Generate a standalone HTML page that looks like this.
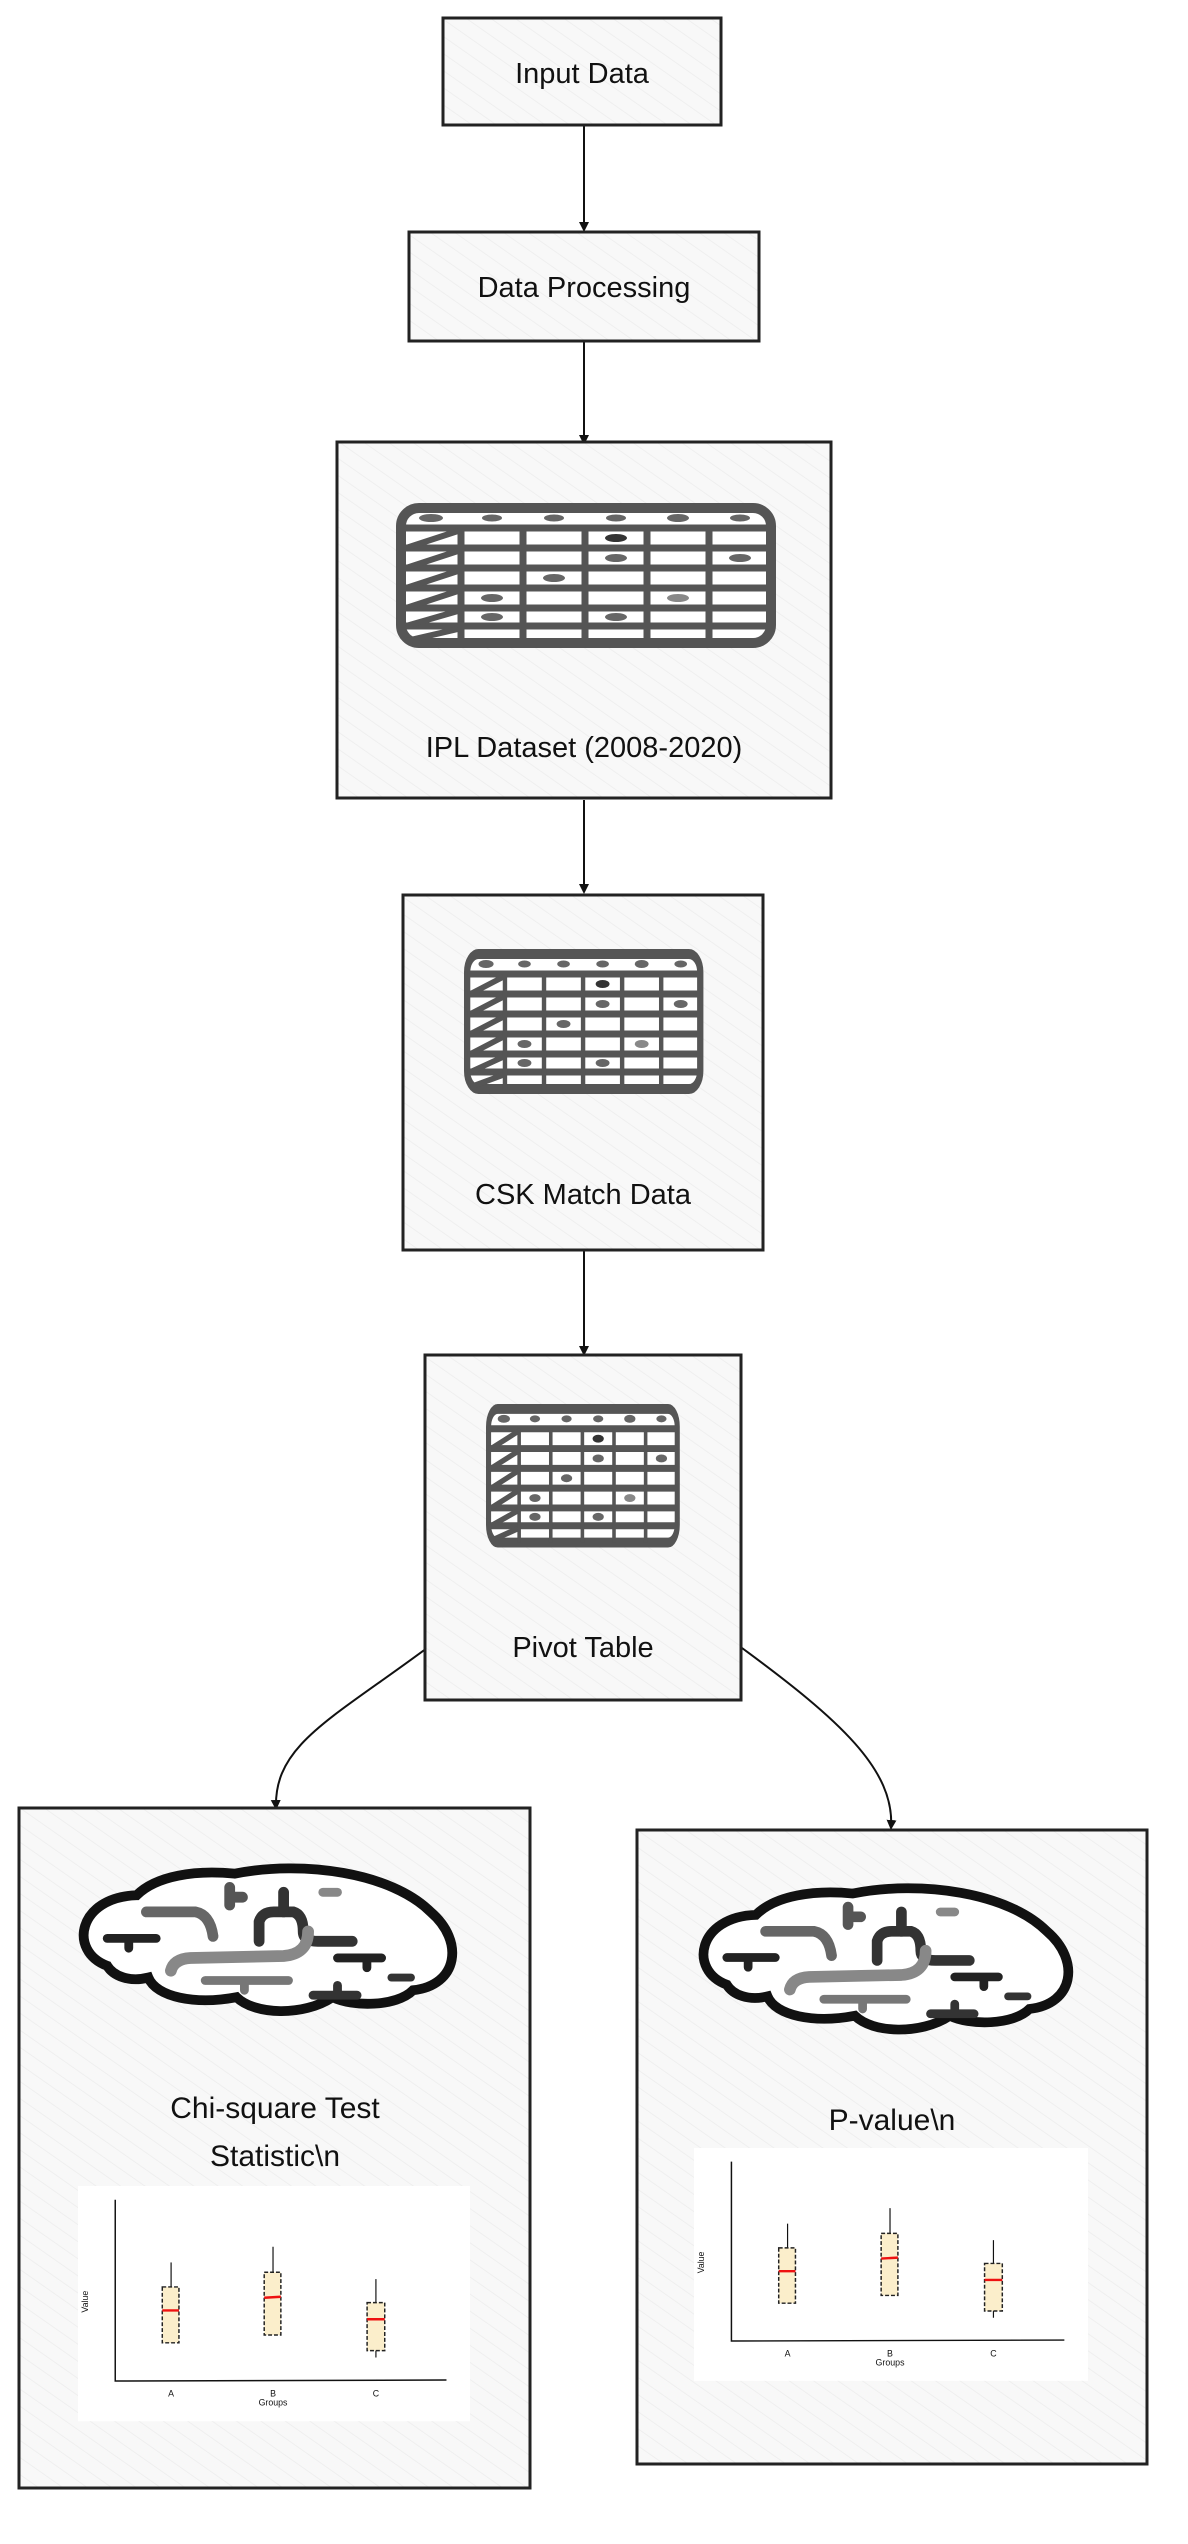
<!DOCTYPE html>
<html><head><meta charset="utf-8"><style>
html,body{margin:0;padding:0;background:#fff;}
svg{display:block;}
text{font-family:"Liberation Sans","DejaVu Sans",sans-serif;fill:#111;}
</style></head><body>
<svg width="1188" height="2544" viewBox="0 0 1188 2544" xmlns="http://www.w3.org/2000/svg">
<defs>
<pattern id="h" width="14" height="14" patternUnits="userSpaceOnUse" patternTransform="rotate(-55)">
<rect width="14" height="14" fill="#f8f8f8"/><line x1="0" y1="0" x2="0" y2="14" stroke="#ececec" stroke-width="1.5"/>
</pattern>
<marker id="ar" markerWidth="10" markerHeight="10" refX="8" refY="5" orient="auto" markerUnits="userSpaceOnUse" viewBox="0 0 10 10">
<path d="M0,0 L10,5 L0,10 Z" fill="#111"/></marker>
<g id="tbl">
<rect x="5" y="5" width="370" height="135" rx="18" fill="#fff" stroke="#555" stroke-width="10"/>
<g stroke="#555" stroke-width="7">
<line x1="5" y1="25" x2="375" y2="25"/><line x1="5" y1="45" x2="375" y2="45"/><line x1="5" y1="65" x2="375" y2="65"/>
<line x1="5" y1="85" x2="375" y2="85"/><line x1="5" y1="105" x2="375" y2="105"/><line x1="5" y1="123" x2="375" y2="123"/>
<line x1="65" y1="25" x2="65" y2="140"/><line x1="127" y1="25" x2="127" y2="140"/><line x1="189" y1="25" x2="189" y2="140"/>
<line x1="251" y1="25" x2="251" y2="140"/><line x1="313" y1="25" x2="313" y2="140"/>
<path d="M10,45 L62,28 M10,65 L62,48 M10,85 L62,68 M10,105 L62,88 M10,123 L62,108 M10,138 L62,126" stroke-width="6"/>
</g>
<g fill="#666">
<ellipse cx="35" cy="15" rx="12" ry="4"/><ellipse cx="96" cy="15" rx="10" ry="3.5"/><ellipse cx="158" cy="15" rx="10" ry="3.5"/>
<ellipse cx="220" cy="15" rx="10" ry="3.5"/><ellipse cx="282" cy="15" rx="11" ry="4"/><ellipse cx="344" cy="15" rx="10" ry="3.5"/>
<ellipse cx="220" cy="35" rx="11" ry="4" fill="#333"/><ellipse cx="220" cy="55" rx="11" ry="4"/><ellipse cx="344" cy="55" rx="11" ry="4"/>
<ellipse cx="158" cy="75" rx="11" ry="4"/><ellipse cx="96" cy="95" rx="11" ry="4"/><ellipse cx="282" cy="95" rx="11" ry="4" fill="#888"/>
<ellipse cx="96" cy="114" rx="11" ry="4"/><ellipse cx="220" cy="114" rx="11" ry="4"/>
</g>
</g>
<g id="brain">
<path d="M40,110 C0,95 10,40 70,38 C90,18 130,12 170,16 C240,2 330,15 370,55 C405,85 398,130 352,135 C335,152 290,152 270,142 C240,162 190,160 172,142 C130,150 90,142 82,122 C62,127 46,120 40,110 Z" fill="#fff" stroke="#111" stroke-width="10"/>
<g fill="none" stroke-linecap="round">
<path d="M80,55 L130,55 Q145,58 148,80" stroke="#666" stroke-width="11"/>
<path d="M165,30 L165,48 M165,40 L178,40" stroke="#555" stroke-width="11"/>
<path d="M195,85 L195,65 Q198,55 210,55 L230,55 Q240,58 240,75 Q240,85 255,85 L290,85" stroke="#333" stroke-width="11"/>
<path d="M220,35 L220,55" stroke="#333" stroke-width="11"/>
<path d="M260,35 L275,35" stroke="#888" stroke-width="9"/>
<path d="M40,82 L90,82 M62,82 L62,92" stroke="#222" stroke-width="9"/>
<path d="M105,115 Q108,103 125,102 L220,100 Q245,98 245,75" stroke="#888" stroke-width="12"/>
<path d="M140,125 L225,125 M180,125 L180,135" stroke="#777" stroke-width="9"/>
<path d="M275,102 L320,102 M305,102 L305,112" stroke="#222" stroke-width="9"/>
<path d="M250,140 L295,140 M275,130 L275,140" stroke="#333" stroke-width="9"/>
<path d="M330,122 L350,122" stroke="#333" stroke-width="8"/>
</g>
</g>
<g id="chart">
<rect x="0" y="0" width="400" height="240" fill="#fff"/>
<path d="M38,14 L38,199 L376,198" fill="none" stroke="#111" stroke-width="1.5"/>
<g stroke="#111" stroke-width="1.2">
<line x1="95" y1="78" x2="95" y2="160"/><line x1="199" y1="62" x2="199" y2="152"/><line x1="304" y1="95" x2="304" y2="175"/>
</g>
<g fill="#fbeecb" stroke="#222" stroke-width="1.5" stroke-dasharray="4,2">
<rect x="86" y="103" width="17" height="57"/><rect x="190" y="88" width="17" height="64"/><rect x="295" y="119" width="18" height="49"/>
</g>
<g stroke="#e11" stroke-width="2.5">
<line x1="86" y1="127" x2="103" y2="127"/><line x1="190" y1="114" x2="207" y2="113"/><line x1="295" y1="136" x2="313" y2="136"/>
</g>
<g font-size="9" text-anchor="middle">
<text x="95" y="215">A</text><text x="199" y="215">B</text><text x="304" y="215">C</text><text x="199" y="224">Groups</text>
<text transform="translate(10,118) rotate(-90)">Value</text>
</g>
</g>
</defs>

<g stroke="#111" stroke-width="2" fill="none" marker-end="url(#ar)">
<line x1="584" y1="126" x2="584" y2="230"/>
<line x1="584" y1="341" x2="584" y2="443"/>
<line x1="584" y1="800" x2="584" y2="892"/>
<line x1="584" y1="1250" x2="584" y2="1354"/>
<path d="M427,1648 C330,1720 274,1745 276,1808"/>
<path d="M742,1648 C840,1720 895,1770 891,1828"/>
</g>

<g stroke="#222" stroke-width="3" fill="url(#h)">
<rect x="443" y="18" width="278" height="107"/>
<rect x="409" y="232" width="350" height="109"/>
<rect x="337" y="442" width="494" height="356"/>
<rect x="403" y="895" width="360" height="355"/>
<rect x="425" y="1355" width="316" height="345"/>
<rect x="19" y="1808" width="511" height="680"/>
<rect x="637" y="1830" width="510" height="634"/>
</g>

<text x="582" y="83" font-size="29" text-anchor="middle">Input Data</text>
<text x="584" y="297" font-size="29" text-anchor="middle">Data Processing</text>

<use href="#tbl" transform="translate(396,503)"/>
<text x="584" y="757" font-size="29" text-anchor="middle">IPL Dataset (2008-2020)</text>

<use href="#tbl" transform="translate(464,949) scale(0.63,1)"/>
<text x="583" y="1204" font-size="29" text-anchor="middle">CSK Match Data</text>

<use href="#tbl" transform="translate(486,1404) scale(0.51,0.99)"/>
<text x="583" y="1657" font-size="29" text-anchor="middle">Pivot Table</text>

<use href="#brain" transform="translate(68,1858) scale(0.98,0.98)"/>
<text x="275" y="2118" font-size="30" text-anchor="middle">Chi-square Test</text>
<text x="275" y="2166" font-size="30" text-anchor="middle">Statistic\n</text>
<use href="#chart" transform="translate(78,2186) scale(0.98,0.98)"/>

<use href="#brain" transform="translate(688,1878) scale(0.97,0.97)"/>
<text x="892" y="2130" font-size="30" text-anchor="middle">P-value\n</text>
<use href="#chart" transform="translate(694,2148) scale(0.985,0.97)"/>
</svg>
</body></html>
